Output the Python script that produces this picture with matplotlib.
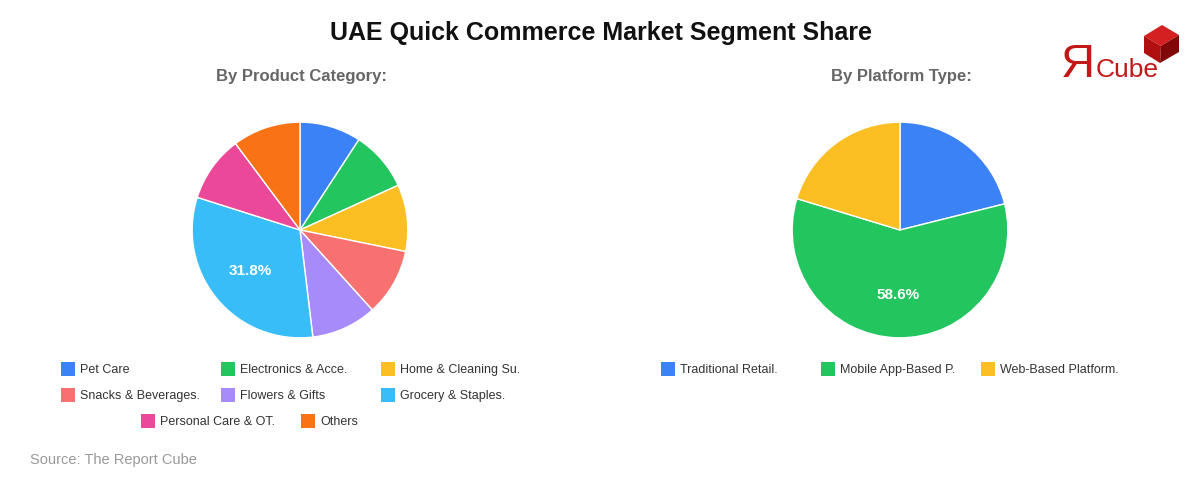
import matplotlib
matplotlib.use("Agg")
import matplotlib.pyplot as plt
from matplotlib.patches import Rectangle, Polygon

plt.rcParams['font.family'] = ['Liberation Sans', 'DejaVu Sans']

# data
product_labels = ["Pet Care", "Electronics & Acce.", "Home & Cleaning Su.",
                  "Snacks & Beverages.", "Flowers & Gifts", "Grocery & Staples.",
                  "Personal Care & OT.", "Others"]
product_share = [9.2, 9.0, 10.0, 10.1, 9.8, 31.8, 9.9, 10.2]
product_colors = ["#3B82F6", "#22C55E", "#FBBF24", "#F87171",
                  "#A78BFA", "#38BDF8", "#EC4899", "#F97316"]

platform_labels = ["Traditional Retail.", "Mobile App-Based P.", "Web-Based Platform."]
platform_share = [21.1, 58.6, 20.3]
platform_colors = ["#3B82F6", "#22C55E", "#FBBF24"]

W, H = 1200, 480


def px(x, y):
    return x / W, 1 - y / H


def pie_at(fig, cx, cy, r, vals, cols):
    ax = fig.add_axes([(cx - r) / W, 1 - (cy + r) / H, 2 * r / W, 2 * r / H])
    ax.pie(vals, colors=cols, startangle=90, counterclock=False, radius=1,
           wedgeprops=dict(edgecolor="white", linewidth=1),
           autopct=lambda p: f"{p:.1f}%" if p > 30 else "", pctdistance=0.6,
           textprops=dict(color="white", fontsize=11, fontweight="bold"))
    ax.set_xlim(-1.02, 1.02)
    ax.set_ylim(-1.02, 1.02)
    ax.set_aspect("equal")
    ax.axis("off")
    return ax


def legend_at(fig, labels, cols, rows):
    # rows: list of (y, [x positions]) in pixels
    k = 0
    for y, xs in rows:
        for x in xs:
            fig.add_artist(Rectangle(px(x, y + 7), 14 / W, 14 / H,
                                     transform=fig.transFigure,
                                     facecolor=cols[k], edgecolor="none"))
            fig.text(*px(x + 19, y + 1), labels[k], fontsize=9, color="#333333",
                     va="center", ha="left")
            k += 1


fig = plt.figure(figsize=(12, 4.8), dpi=100)

fig.text(*px(601, 33), "UAE Quick Commerce Market Segment Share",
         fontsize=18, fontweight="bold", color="#111111", ha="center", va="center")
fig.text(*px(302, 77), "By Product Category:", fontsize=12,
         fontweight="bold", color="#666666", ha="center", va="center")
fig.text(*px(901, 77), "By Platform Type:", fontsize=12,
         fontweight="bold", color="#666666", ha="center", va="center")

pie_at(fig, 300, 230, 110, product_share, product_colors)
pie_at(fig, 900, 230, 110, platform_share, platform_colors)

legend_at(fig, product_labels, product_colors,
          [(369, [61, 221, 381]), (395, [61, 221, 381]), (421, [141, 301])])
legend_at(fig, platform_labels, platform_colors, [(369, [661, 821, 981])])

fig.text(*px(30, 460), "Source: The Report Cube", fontsize=10.5,
         color="#999999", ha="left", va="center")

# logo
fig.text(*px(1061, 77), "Я", fontsize=34, color="#C41818", ha="left",
         va="baseline")
fig.text(*px(1096, 77), "Cube", fontsize=19, color="#C41818", ha="left",
         va="baseline")
top = [(1144, 36), (1162, 25), (1179, 35), (1161, 46)]
left = [(1144, 36), (1161, 46), (1160, 63), (1144, 53)]
right = [(1161, 46), (1179, 35), (1179, 52), (1160, 63)]
for pts, c in [(top, "#D42020"), (left, "#B01010"), (right, "#800808")]:
    fig.add_artist(Polygon([px(x, y) for x, y in pts], closed=True,
                           transform=fig.transFigure, facecolor=c, edgecolor="none"))

fig.savefig("out.png", dpi=100, facecolor="white")
plt.close()
